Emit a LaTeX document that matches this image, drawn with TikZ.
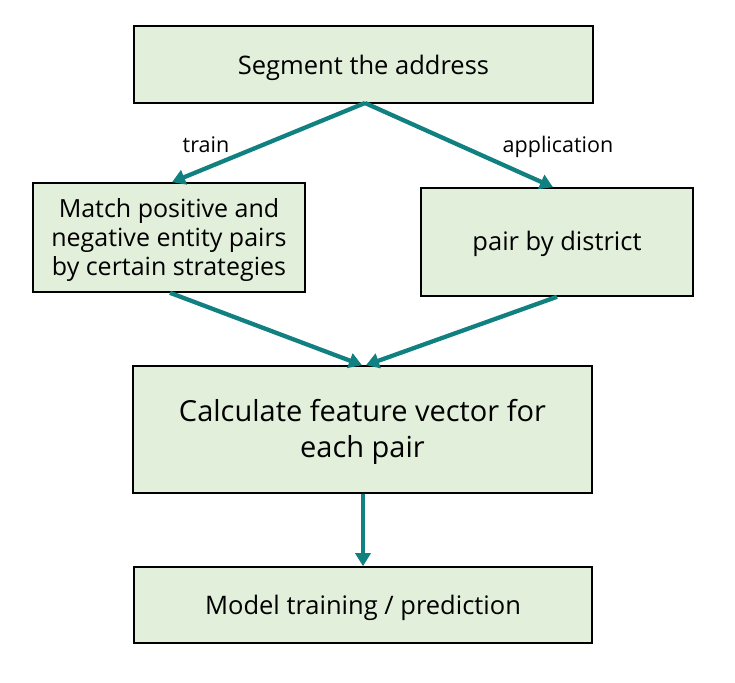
\documentclass[tikz,border=0pt]{standalone}
\usepackage{fontspec}
\setmainfont{Open Sans}
\usetikzlibrary{arrows.meta}
\definecolor{boxfill}{RGB}{226,239,218}
\definecolor{teal}{RGB}{16,128,128}
\newcommand{\tstrut}[1]{\rule{0pt}{#1}}
\newcommand{\bstrut}[1]{\rule[-#1]{0pt}{#1}}
\begin{document}
\begin{tikzpicture}[x=1pt,y=-1pt,
  box/.style={draw=black,line width=1.6pt,fill=boxfill,inner sep=0pt,align=center,font=\fontsize{25.5}{30}\selectfont},
  conn/.style={draw=teal,line width=4.3pt,-{Triangle[width=15pt,length=13pt]}},
  lbl/.style={font=\fontsize{21.5}{25}\selectfont,anchor=base}]
\useasboundingbox (0,0) rectangle (735,682);
\node[box,minimum width=459pt,minimum height=77pt,text height=27pt,text depth=6pt] (seg) at (363.5,64.5) {Segment the address};
\node[box,minimum width=272pt,minimum height=109pt,font=\fontsize{25}{29}\selectfont] (match) at (169,237.5) {\tstrut{25pt}Match positive and\\negative entity pairs\\by certain strategies\bstrut{8pt}};
\node[box,minimum width=272pt,minimum height=108pt,text height=22pt,text depth=6pt] (dist) at (557,242) {pair by district};
\node[box,minimum width=459pt,minimum height=127pt,font=\fontsize{29}{36}\selectfont] (calc) at (362.5,429.5) {\tstrut{28pt}Calculate feature vector for\\each pair\bstrut{9pt}};
\node[box,minimum width=458pt,minimum height=76pt,text height=24pt,text depth=6pt] (model) at (363,605) {Model training / prediction};
\node[lbl] (ltrain) at (206,152) {train};
\node[lbl] (lapp) at (558,152) {application};
\coordinate (segb) at (365,103);
\draw[conn] (segb) -- (match.north -| 172,0);
\draw[conn] (segb) -- (dist.north -| 553,0);
\draw[conn] (match.south -| 170,0) -- (calc.north -| 362,0);
\draw[conn] (dist.south -| 557,0) -- (calc.north -| 366,0);
\draw[conn] (calc.south -| 363,0) -- (model.north -| 363,0);
\end{tikzpicture}
\end{document}
